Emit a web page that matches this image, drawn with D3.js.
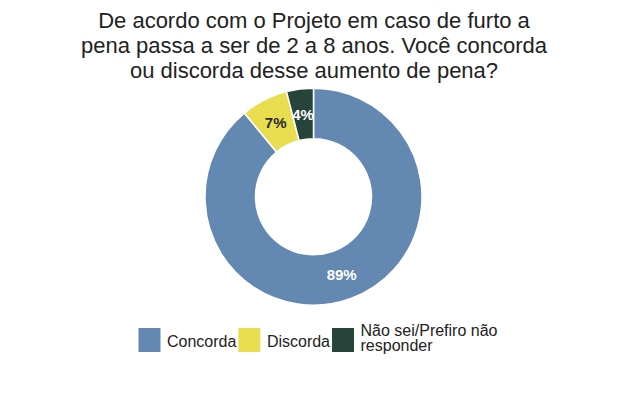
<!DOCTYPE html>
<html>
<head>
<meta charset="utf-8">
<script src="https://cdn.jsdelivr.net/npm/d3@7"></script>
<style>
  body { margin: 0; background: #fff; }
  svg text { font-family: "Liberation Sans", Arial, sans-serif; }
</style>
</head>
<body>
<div id="chart"></div>
<script>
const W = 620, H = 393;

const titleLines = ["De acordo com o Projeto em caso de furto a",
                    "pena passa a ser de 2 a 8 anos. Você concorda",
                    "ou discorda desse aumento de pena?"];
const categories = ["Concorda", "Discorda", "Não sei/Prefiro não responder"];
const legendLabels = [["Concorda"], ["Discorda"], ["Não sei/Prefiro não", "responder"]];
const values = [89, 7, 4];
const colors = ["#6388b1", "#e8dd4f", "#27443a"];
const labelColors = ["#ffffff", "#2b2b2b", "#ffffff"];

function makeChart(){
    let svg = d3.select("#chart").append("svg")
                .attr("width", W)
                .attr("height", H);

    // title
    svg.append("g")
       .selectAll("text")
       .data(titleLines)
       .enter()
       .append("text")
       .attr("x", 314)
       .attr("y", (d, i) => 28 + i * 25)
       .attr("text-anchor", "middle")
       .attr("font-size", 22)
       .attr("fill", "#222")
       .text(d => d);

    // donut
    const cx = 313.5, cy = 196.7, rOut = 108.5, rIn = 58;
    let color = d3.scaleOrdinal().domain(categories).range(colors);
    let pie = d3.pie().sort(null).value(d => d.v);
    let arcs = pie(categories.map((c, i) => ({c: c, v: values[i], i: i})));
    let arc = d3.arc().innerRadius(rIn).outerRadius(rOut);

    let g = svg.append("g").attr("transform", `translate(${cx},${cy})`);
    g.selectAll("path")
     .data(arcs)
     .enter()
     .append("path")
     .attr("d", arc)
     .attr("fill", d => color(d.data.c))
     .attr("stroke", "#fff")
     .attr("stroke-width", 1.5);

    g.selectAll("text")
     .data(arcs)
     .enter()
     .append("text")
     .attr("transform", d => `translate(${arc.centroid(d)})`)
     .attr("text-anchor", "middle")
     .attr("dy", "0.36em")
     .attr("font-size", 15)
     .attr("font-weight", "bold")
     .attr("fill", d => labelColors[d.data.i])
     .text(d => d.data.v + "%");

    // legend
    let lg = svg.append("g");
    let x = 138;
    const keyW = 23, keyH = 25, keyY = 327.5;
    categories.forEach((c, i) => {
        lg.append("rect")
          .attr("x", x).attr("y", keyY)
          .attr("width", keyW).attr("height", keyH)
          .attr("fill", color(c))
          .attr("stroke", "#fff").attr("stroke-width", 1);
        let lines = legendLabels[i];
        let y0 = lines.length === 1 ? 346.5 : 336;
        let tw = 0;
        lines.forEach((l, j) => {
            let t = lg.append("text")
                      .attr("x", x + keyW + 6)
                      .attr("y", y0 + j * 14.5)
                      .attr("font-size", 16)
                      .attr("fill", "#222")
                      .text(l);
            tw = Math.max(tw, t.node().getComputedTextLength());
        });
        x += keyW + 6 + tw + 1.5;
    });
}

makeChart();
</script>
</body>
</html>
